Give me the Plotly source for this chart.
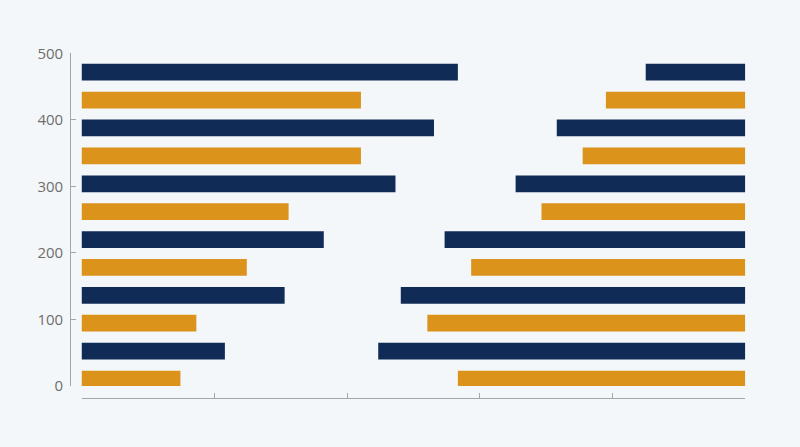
import plotly.graph_objects as go

# -------------------------------
# Datos
# -------------------------------
x_max = 100

filas_naranja = [0, 2, 4, 6, 8, 10]
naranja_izq = [14.9, 17.3, 24.9, 31.2, 42.1, 42.1]
naranja_der = [43.3, 47.9, 41.3, 30.7, 24.5, 21.0]

filas_azul = [1, 3, 5, 7, 9, 11]
azul_izq = [21.6, 30.6, 36.5, 47.3, 53.1, 56.7]
azul_der = [55.3, 51.9, 45.3, 34.6, 28.4, 15.0]

y_ticks = [0, 100, 200, 300, 400, 500]
x_ticks = [0, 20, 40, 60, 80, 100]

AZUL = "#112b57"
NARANJA = "#dc931b"
FONDO = "#f3f7f9"
GRIS = "#a3a6a8"

# -------------------------------
# Barras
# -------------------------------
fig = go.Figure()

def barra(x, filas, color, base=None):
    fig.add_trace(go.Bar(
        x=x, y=filas, base=base, orientation="h",
        marker=dict(color=color, line=dict(width=0)),
        width=0.6, xaxis="x", yaxis="y", showlegend=False,
        hoverinfo="skip",
    ))

barra(naranja_izq, filas_naranja, NARANJA)
barra(naranja_der, filas_naranja, NARANJA, base=[x_max - v for v in naranja_der])
barra(azul_izq, filas_azul, AZUL)
barra(azul_der, filas_azul, AZUL, base=[x_max - v for v in azul_der])

# traza vacia para que se dibuje el eje 0-500
fig.add_trace(go.Scatter(x=[], y=[], xaxis="x", yaxis="y2",
                         showlegend=False, hoverinfo="skip"))

# -------------------------------
# Ejes separados (estilo d3)
# -------------------------------
fig.update_layout(
    width=800, height=447,
    margin=dict(l=0, r=0, t=0, b=0, autoexpand=False),
    paper_bgcolor=FONDO, plot_bgcolor=FONDO,
    barmode="overlay",
    font=dict(family="Open Sans, Lato, sans-serif", size=15, color="#6e6e6e"),
    xaxis=dict(
        domain=[0.1019, 0.9316], range=[0, x_max],
        anchor="free", position=1 - 398.3 / 447,
        tickvals=x_ticks, showticklabels=False,
        ticks="inside", ticklen=5, tickcolor=GRIS,
        showline=True, linecolor=GRIS, linewidth=1.2,
        showgrid=False, zeroline=False, fixedrange=True, automargin=False,
    ),
    yaxis=dict(
        domain=[1 - 386 / 447, 1 - 53.3 / 447], range=[-0.251, 11.678],
        anchor="x", visible=False, showgrid=False, zeroline=False,
        fixedrange=True, automargin=False,
    ),
    yaxis2=dict(
        overlaying="y", range=[0, 500],
        anchor="free", position=70.3 / 800,
        tickvals=y_ticks, ticks="inside", ticklen=5, tickcolor=GRIS,
        showline=True, linecolor=GRIS, linewidth=1.2,
        showgrid=False, zeroline=False, fixedrange=True, automargin=False,
        ticklabelstandoff=4,
    ),
)

fig.write_html("out.html", config={"displayModeBar": False},
               post_script="document.body.style.margin='0';")
